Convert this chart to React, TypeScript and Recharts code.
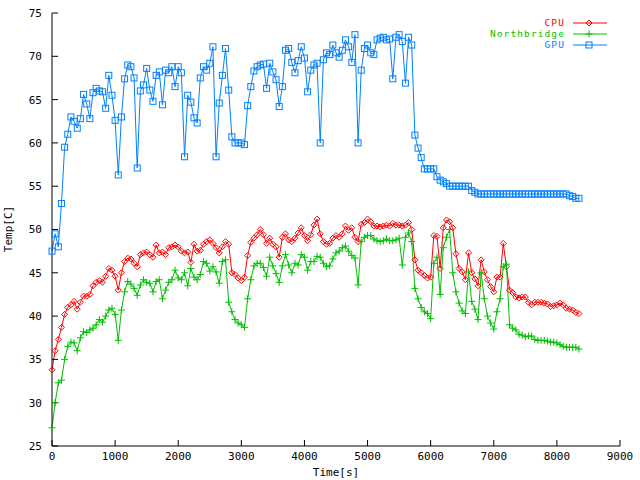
import { LineChart, Line, XAxis, YAxis, Legend } from 'recharts';

const FONT = '"DejaVu Sans Mono", monospace';
const STEP = 50;

// temperatures sampled every 50 s
const cpuTemp = [
  33.8, 36.0, 37.3, 38.7, 40.2, 41.0, 41.3, 41.7, 40.8, 41.6,
  42.3, 42.3, 42.5, 43.5, 43.9, 44.1, 43.9, 44.6, 45.5, 45.3,
  44.6, 43.0, 45.0, 46.3, 46.7, 46.6, 46.1, 45.7, 47.1, 47.3,
  47.4, 47.1, 46.8, 48.2, 47.3, 47.4, 47.1, 47.9, 48.0, 48.2,
  48.0, 47.5, 47.3, 47.4, 46.2, 48.3, 47.5, 47.6, 48.3, 48.6,
  48.8, 48.4, 47.9, 47.3, 48.0, 48.6, 48.3, 45.0, 44.8, 44.4,
  44.1, 44.5, 47.0, 48.5, 49.0, 49.4, 50.0, 49.4, 48.4, 49.0,
  48.3, 48.0, 46.8, 49.1, 49.5, 48.8, 48.6, 49.0, 49.6, 50.2,
  49.3, 48.7, 49.4, 50.5, 51.2, 49.5, 48.6, 48.3, 48.4, 49.0,
  49.3, 49.1, 49.5, 50.4, 49.9, 50.2, 49.1, 48.6, 50.6, 50.8,
  51.2, 50.9, 50.4, 50.4, 50.3, 50.4, 50.5, 50.4, 50.7, 50.5,
  50.5, 50.4, 50.5, 50.8, 50.0, 46.5, 45.3, 45.0, 44.7, 44.4,
  44.5, 49.3, 49.2, 45.5, 50.2, 51.1, 50.9, 50.2, 47.2, 45.5,
  45.1, 44.2, 47.3, 45.0, 44.3, 43.5, 46.5, 45.1, 44.2, 43.4,
  42.8, 44.5, 44.5, 48.4, 45.7, 43.0, 42.7, 42.2, 42.1, 42.2,
  42.2, 41.6, 41.3, 41.6, 41.6, 41.6, 41.5, 41.4, 41.1, 41.2,
  41.3, 41.5, 41.3, 40.9, 40.8, 40.7, 40.4, 40.3,
];

const northbridgeTemp = [
  27.1, 30.0, 32.3, 32.6, 35.0, 36.5, 37.0, 36.9, 36.0, 37.5,
  38.2, 38.1, 38.4, 38.6, 39.0, 39.6, 39.3, 40.0, 40.7, 40.9,
  40.2, 37.2, 40.7, 42.8, 44.0, 43.7, 43.2, 42.4, 43.6, 44.2,
  43.9, 43.8, 42.8, 44.0, 44.2, 42.0, 43.0, 43.9, 44.2, 45.3,
  44.4, 44.2, 45.0, 43.5, 45.5, 44.5, 44.2, 44.8, 46.3, 46.1,
  45.2, 45.7, 45.1, 43.8, 46.3, 46.5, 41.6, 40.5, 39.6, 39.2,
  39.0, 38.7, 42.0, 44.2, 45.8, 46.1, 46.1, 45.6, 44.6, 46.8,
  45.8, 44.9, 43.9, 45.8, 47.1, 45.9, 45.0, 46.1, 45.9, 47.1,
  46.8, 45.3, 46.3, 46.3, 46.9, 46.8, 46.1, 45.7, 45.8, 46.6,
  47.3, 47.5, 47.9, 48.1, 47.5, 47.0, 46.7, 43.6, 48.6, 49.1,
  49.3, 49.3, 48.9, 48.7, 48.6, 48.7, 48.9, 48.7, 48.7, 48.8,
  49.0, 45.9, 49.1, 49.6, 48.6, 43.2, 42.0, 41.0, 40.5, 40.3,
  39.7, 46.1, 46.8, 42.5, 47.9, 49.1, 50.0, 45.0, 42.8, 41.5,
  40.6, 40.3, 45.1, 41.7, 40.8, 39.6, 45.0, 42.0, 40.0, 39.2,
  38.5, 40.5, 42.0, 45.7, 46.0, 39.0, 38.6, 38.4, 37.9, 37.8,
  37.6, 37.7, 37.7, 37.3, 37.2, 37.2, 37.2, 37.1, 37.0, 37.0,
  36.9, 36.7, 36.5, 36.4, 36.4, 36.4, 36.4, 36.2,
];

const gpuTemp = [
  47.5, 49.5, 48.0, 53.0, 59.5, 61.0, 63.0, 62.5, 61.7, 62.8,
  65.6, 64.5, 62.8, 65.8, 66.3, 66.0, 65.9, 64.0, 67.8, 65.5,
  62.6, 56.3, 63.0, 67.4, 69.0, 68.8, 67.5, 57.1, 66.0, 66.7,
  68.6, 66.1, 64.8, 67.8, 68.2, 64.4, 68.4, 68.1, 68.8, 66.5,
  68.8, 68.1, 58.4, 65.5, 64.7, 62.9, 62.3, 67.5, 68.8, 68.4,
  69.2, 71.1, 58.4, 64.6, 67.8, 70.9, 66.1, 60.7, 60.0, 60.0,
  60.0, 59.8, 64.3, 66.5, 68.3, 68.8, 69.0, 69.1, 66.3, 69.2,
  68.2, 67.3, 64.2, 66.5, 70.7, 70.9, 69.3, 68.1, 69.5, 71.1,
  69.8, 65.9, 68.4, 69.0, 69.2, 60.0, 69.6, 70.4, 70.2, 71.3,
  70.4, 69.9, 70.7, 71.9, 71.1, 69.3, 72.5, 60.0, 68.4, 70.9,
  71.3, 70.4, 70.2, 71.9, 72.1, 72.2, 71.9, 72.0, 67.4, 72.2,
  72.5, 71.7, 66.9, 72.2, 71.3, 60.9, 59.4, 58.3, 57.0, 57.0,
  57.0, 57.0, 56.1, 55.7, 55.5, 55.3, 55.0, 55.0, 55.0, 55.0,
  55.0, 55.0, 55.0, 54.5, 54.3, 54.1, 54.1, 54.1, 54.1, 54.1,
  54.1, 54.1, 54.1, 54.1, 54.1, 54.1, 54.1, 54.1, 54.1, 54.1,
  54.1, 54.1, 54.1, 54.1, 54.1, 54.1, 54.1, 54.1, 54.1, 54.1,
  54.1, 54.1, 54.1, 54.1, 53.9, 53.8, 53.6, 53.6,
];

const xTicks = [0, 1000, 2000, 3000, 4000, 5000, 6000, 7000, 8000, 9000];
const yTicks = [25, 30, 35, 40, 45, 50, 55, 60, 65, 70, 75];
const legendOrder = ['cpu', 'nb', 'gpu'];

const data = cpuTemp.map((cpu, i) => ({
  time: i * STEP,
  cpu,
  nb: northbridgeTemp[i],
  gpu: gpuTemp[i],
}));

const COLORS = { cpu: '#ff0000', nb: '#00c000', gpu: '#0080ff' };

function marker(kind: string, cx: number, cy: number, color: string, key?: string | number) {
  if (kind === 'cpu') {
    return (
      <path key={key} d={`M${cx},${cy - 3}L${cx + 3},${cy}L${cx},${cy + 3}L${cx - 3},${cy}Z`}
        stroke={color} fill="none" strokeWidth={1} />
    );
  }
  if (kind === 'nb') {
    return (
      <path key={key} d={`M${cx - 3.5},${cy}H${cx + 3.5}M${cx},${cy - 3.5}V${cy + 3.5}`}
        stroke={color} fill="none" strokeWidth={1} />
    );
  }
  return <rect key={key} x={cx - 3} y={cy - 3} width={6} height={6} stroke={color} fill="none" strokeWidth={1} />;
}

const dotFor = (kind: string) => (props: any) => {
  const { cx, cy, index } = props;
  if (cx == null || cy == null) return <g key={`${kind}-${index}`} />;
  return marker(kind, cx, cy, COLORS[kind as keyof typeof COLORS], `${kind}-${index}`);
};

const renderLegend = (props: any) => {
  const payload = [...(props.payload || [])].sort(
    (a: any, b: any) => legendOrder.indexOf(a.dataKey) - legendOrder.indexOf(b.dataKey)
  );
  return (
    <svg width={150} height={40} style={{ display: 'block' }}>
      {payload.map((p: any, i: number) => {
        const y = 10 + i * 11;
        return (
          <g key={p.value}>
            <text x={95} y={y} dy="0.35em" textAnchor="end" fill={p.color}
              fontFamily={FONT} fontSize={9.5} letterSpacing={1.1}>{p.value}</text>
            <line x1={103} x2={137} y1={y} y2={y} stroke={p.color} />
            {marker(p.dataKey, 119, y, p.color)}
          </g>
        );
      })}
    </svg>
  );
};

const tickStyle = { fill: '#000', fontSize: 11, fontFamily: FONT };

export default function App() {
  return (
    <div style={{ position: 'absolute', left: 0, top: 0, background: '#fff' }}>
      <LineChart width={640} height={480} data={data}
        margin={{ top: 13, right: 20, bottom: 0, left: 12 }}>
        <XAxis xAxisId="b" dataKey="time" type="number" domain={[0, 9000]} ticks={xTicks}
          height={34} tickSize={-6} tickMargin={12} stroke="#000" tick={tickStyle}
          label={() => (
            <text x={336} y={476} textAnchor="middle" fill="#000" fontFamily={FONT} fontSize={11}>Time[s]</text>
          )} />
        <XAxis xAxisId="t" orientation="top" dataKey="time" type="number" domain={[0, 9000]}
          ticks={xTicks} height={0} tickSize={-6} tick={false} stroke="#000" />
        <YAxis yAxisId="l" type="number" domain={[25, 75]} ticks={yTicks} width={40}
          tickSize={-6} tickMargin={16} stroke="#000" tick={tickStyle}
          label={() => (
            <text x={12} y={229} textAnchor="middle" transform="rotate(-90 12 229)" fill="#000"
              fontFamily={FONT} fontSize={11}>Temp[C]</text>
          )} />
        <YAxis yAxisId="r" orientation="right" type="number" domain={[25, 75]} ticks={yTicks}
          width={0} tickSize={-6} tick={false} stroke="#000" />
        <Legend content={renderLegend} layout="vertical" align="center" verticalAlign="middle"
          wrapperStyle={{ position: 'absolute', top: 13, left: 470, width: 150, height: 40 }} />
        <Line xAxisId="b" yAxisId="l" type="linear" dataKey="cpu" name="CPU" stroke={COLORS.cpu}
          strokeWidth={1} dot={dotFor('cpu')} isAnimationActive={false} />
        <Line xAxisId="b" yAxisId="l" type="linear" dataKey="nb" name="Northbridge" stroke={COLORS.nb}
          strokeWidth={1} dot={dotFor('nb')} isAnimationActive={false} />
        <Line xAxisId="b" yAxisId="l" type="linear" dataKey="gpu" name="GPU" stroke={COLORS.gpu}
          strokeWidth={1} dot={dotFor('gpu')} isAnimationActive={false} />
      </LineChart>
    </div>
  );
}
